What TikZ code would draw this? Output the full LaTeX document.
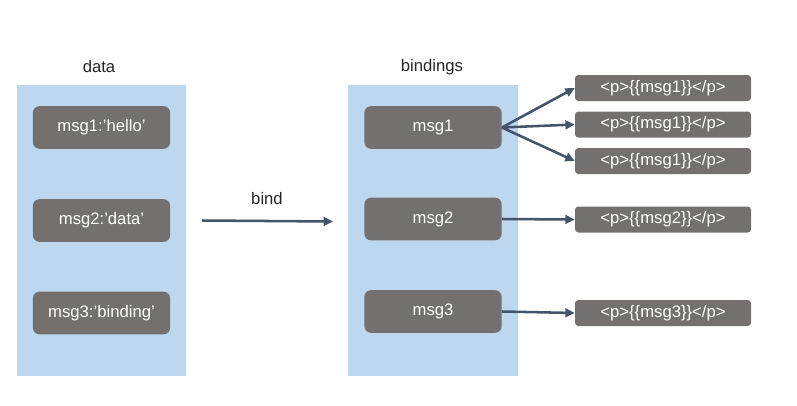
\documentclass[tikz,border=0pt]{standalone}
\usepackage{fontspec}
\setmainfont{Liberation Sans}
\usetikzlibrary{arrows.meta}
\definecolor{panelblue}{HTML}{BDD7EE}
\definecolor{boxgray}{HTML}{757070}
\definecolor{linkblue}{HTML}{44546A}
\definecolor{labelgray}{HTML}{262626}
\begin{document}
\begin{tikzpicture}[x=0.75pt,y=-0.75pt]
        \useasboundingbox (0,0) rectangle (797,405);
        \fill[panelblue] (17,85) rectangle (186,376);
        \fill[panelblue] (348,85) rectangle (518,376);
        \begin{scope}[every node/.style={text=labelgray,font=\fontsize{12.5}{15}\selectfont}]
        \node (data) at (99,67) {data};
        \node (bindings) at (432,67) {bindings};
        \node (bind) at (267,199) {bind};
        \end{scope}
        \begin{scope}[every node/.style={fill=boxgray,rounded corners=5pt,text=white,
                minimum width=103pt,minimum height=32pt,inner sep=0pt,
                font=\fontsize{12.5}{15}\selectfont}]
        \node (d1) at (101.5,127.5) {msg1:'hello'};
        \node (d2) at (101.5,220.5) {msg2:'data'};
        \node (d3) at (101.5,313) {msg3:'binding'};
        \node (b1) at (433,127.5) {msg1};
        \node (b2) at (433,219) {msg2};
        \node (b3) at (433,311.5) {msg3};
        \end{scope}
        \begin{scope}[every node/.style={fill=boxgray,rounded corners=2.5pt,text=white,
                minimum width=132pt,minimum height=19.5pt,inner sep=0pt,
                font=\fontsize{12.5}{15}\selectfont}]
        \node (t1) at (663,88) {<p>\{\{msg1\}\}</p>};
        \node (t2) at (663,124.5) {<p>\{\{msg1\}\}</p>};
        \node (t3) at (663,161) {<p>\{\{msg1\}\}</p>};
        \node (t4) at (663,219.5) {<p>\{\{msg2\}\}</p>};
        \node (t5) at (663,313) {<p>\{\{msg3\}\}</p>};
        \end{scope}
        \coordinate (bs) at (202,220.5);
        \coordinate (be) at (333,221.5);
        \begin{scope}[every edge/.style={draw=linkblue,line width=1.9pt,
                -{Triangle[length=7pt,width=6.5pt]}}]
        \path (bs) edge (be)
              (b1.east) edge (t1.west)
              (b1.east) edge (t2.west)
              (b1.east) edge (t3.west)
              (b2.east) edge (t4.west)
              (b3.east) edge (t5.west);
        \end{scope}
        \end{tikzpicture}
\end{document}
